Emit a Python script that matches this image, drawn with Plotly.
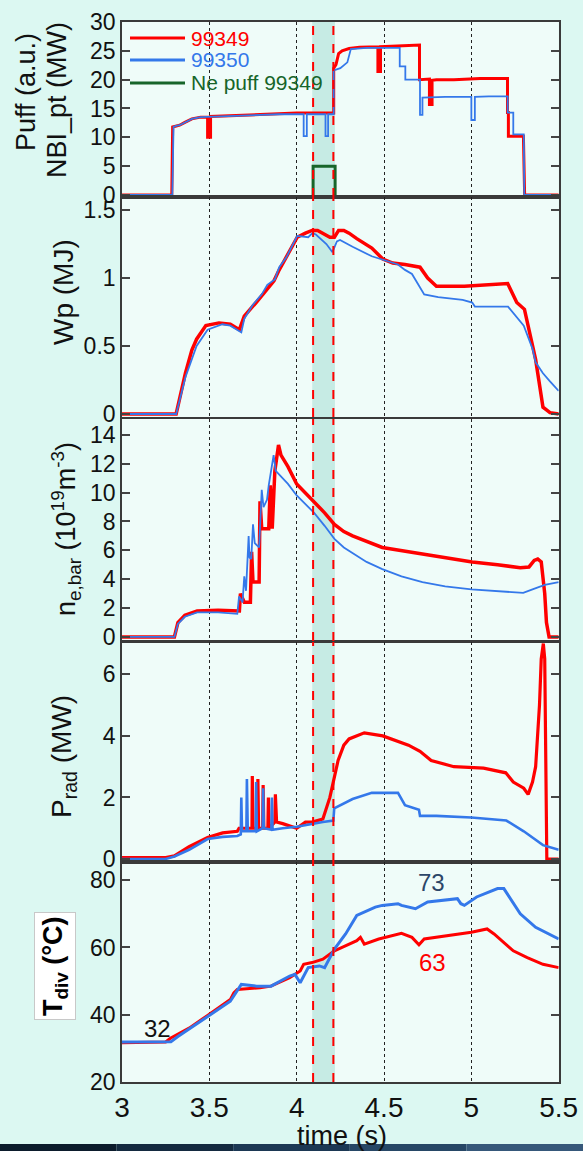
import plotly.graph_objects as go

# ---------------- data ----------------
# Panel 1: NBI power / Ne puff
nbi_349_t = [3.0, 3.285, 3.29, 3.31, 3.33, 3.36, 3.40, 3.45, 3.49, 3.49, 3.507, 3.507, 3.60, 3.75, 3.90, 4.0, 4.212,
             4.212, 4.225, 4.24, 4.26, 4.30, 4.36, 4.465, 4.465, 4.48, 4.48, 4.60, 4.703, 4.703, 4.76, 4.76, 4.775,
             4.775, 4.80, 4.90, 5.05, 5.207, 5.207, 5.212, 5.212, 5.298, 5.30, 5.305, 5.5]
nbi_349_v = [0, 0, 11.8, 12.0, 12.1, 12.6, 13.2, 13.5, 13.5, 10.0, 10.0, 13.6, 13.7, 13.9, 14.1, 14.2, 14.2,
             22.0, 22.6, 24.5, 25.0, 25.4, 25.6, 25.7, 21.4, 21.4, 25.7, 25.8, 26.0, 20.0, 20.1, 15.7, 15.7,
             19.9, 20.0, 20.0, 20.2, 20.2, 14.3, 14.3, 10.2, 10.2, 6.0, 0, 0]
nbi_350_t = [3.0, 3.288, 3.295, 3.31, 3.33, 3.36, 3.40, 3.45, 3.60, 3.75, 3.90, 4.04, 4.04, 4.058, 4.058, 4.165,
             4.165, 4.18, 4.18, 4.212, 4.212, 4.25, 4.27, 4.29, 4.31, 4.40, 4.59, 4.59, 4.622, 4.622, 4.706,
             4.706, 4.72, 4.72, 4.85, 5.0, 5.0, 5.02, 5.02, 5.1, 5.208, 5.208, 5.24, 5.24, 5.30, 5.303, 5.5]
nbi_350_v = [0, 0, 11.8, 12.0, 12.1, 12.6, 13.2, 13.5, 13.7, 13.9, 14.0, 14.0, 10.2, 10.2, 14.0, 14.0,
             10.2, 10.2, 14.0, 14.0, 21.6, 22.0, 22.5, 23.0, 25.3, 25.5, 25.5, 22.3, 22.3, 20.0, 20.0,
             13.9, 13.9, 16.9, 17.0, 17.0, 13.0, 13.0, 17.0, 17.1, 17.1, 14.3, 14.3, 10.5, 10.5, 0, 0]
ne_puff_t = [4.094, 4.094, 4.22, 4.22]
ne_puff_v = [0, 5.0, 5.0, 0]

# Panel 2: Wp
wp_349_t = [3.0, 3.31, 3.363, 3.40, 3.427, 3.48, 3.555, 3.62, 3.672, 3.70, 3.768, 3.80, 3.832, 3.87, 3.896, 3.93,
            3.96, 4.003, 4.05, 4.088, 4.12, 4.152, 4.19, 4.216, 4.24, 4.27, 4.30, 4.344, 4.39, 4.43, 4.493, 4.55,
            4.62, 4.68, 4.706, 4.75, 4.80, 4.96, 5.10, 5.15, 5.208, 5.26, 5.304, 5.368, 5.41, 5.43, 5.45, 5.5]
wp_349_v = [0.0, 0.0, 0.30, 0.47, 0.55, 0.65, 0.67, 0.66, 0.62, 0.72, 0.82, 0.87, 0.92, 0.98, 1.05, 1.13,
            1.20, 1.30, 1.33, 1.35, 1.35, 1.33, 1.30, 1.30, 1.35, 1.35, 1.33, 1.29, 1.25, 1.22, 1.14, 1.11,
            1.10, 1.09, 1.08, 1.00, 0.94, 0.94, 0.95, 0.96, 0.96, 0.82, 0.77, 0.40, 0.05, 0.03, 0.01, 0.0]
wp_350_t = [3.0, 3.31, 3.363, 3.427, 3.49, 3.575, 3.62, 3.683, 3.70, 3.747, 3.80, 3.832, 3.875, 3.90, 3.94, 3.96,
            4.003, 4.066, 4.09, 4.11, 4.17, 4.205, 4.23, 4.248, 4.32, 4.43, 4.58, 4.62, 4.66, 4.73, 4.81, 4.95,
            5.005, 5.02, 5.21, 5.30, 5.35, 5.368, 5.41, 5.45, 5.5]
wp_350_v = [0.0, 0.0, 0.27, 0.50, 0.62, 0.66, 0.65, 0.60, 0.70, 0.80, 0.88, 0.95, 0.99, 1.08, 1.15, 1.20,
            1.31, 1.30, 1.33, 1.32, 1.25, 1.19, 1.27, 1.28, 1.23, 1.16, 1.10, 1.06, 1.03, 0.88, 0.86, 0.84,
            0.82, 0.79, 0.79, 0.65, 0.48, 0.38, 0.30, 0.24, 0.17]

# Panel 3: line-averaged density
ne_349_t = [3.0, 3.30, 3.32, 3.36, 3.43, 3.55, 3.672, 3.678, 3.70, 3.735, 3.742, 3.75, 3.785, 3.79, 3.80, 3.84,
            3.849, 3.855, 3.86, 3.875, 3.896, 3.91, 3.95, 4.0, 4.05, 4.10, 4.16, 4.216, 4.27, 4.32, 4.40, 4.49,
            4.64, 4.80, 5.005, 5.15, 5.28, 5.33, 5.36, 5.38, 5.40, 5.42, 5.43, 5.445, 5.5]
ne_349_v = [0, 0, 1.0, 1.5, 1.8, 1.85, 1.8, 3.0, 2.4, 2.4, 5.9, 3.8, 3.8, 9.4, 7.5, 7.5,
            10.5, 7.5, 7.5, 11.5, 13.3, 12.6, 11.8, 10.6, 10.0, 9.4, 8.6, 7.8, 7.3, 7.0, 6.6, 6.2,
            5.9, 5.6, 5.2, 5.0, 4.8, 4.85, 5.3, 5.4, 5.2, 3.0, 1.0, 0.0, 0.0]
ne_350_t = [3.0, 3.30, 3.32, 3.36, 3.43, 3.55, 3.66, 3.67, 3.69, 3.70, 3.71, 3.725, 3.73, 3.74, 3.75, 3.76,
            3.785, 3.80, 3.81, 3.83, 3.84, 3.868, 3.88, 3.95, 4.0, 4.05, 4.10, 4.16, 4.216, 4.27, 4.32, 4.40,
            4.49, 4.60, 4.72, 4.85, 5.0, 5.15, 5.297, 5.35, 5.42, 5.5]
ne_350_v = [0, 0, 0.9, 1.4, 1.7, 1.7, 1.6, 2.8, 2.4, 4.2, 3.2, 7.0, 5.5, 5.4, 7.8, 6.5,
            6.2, 10.2, 9.0, 9.5, 10.5, 12.6, 11.5, 10.6, 9.8, 9.2, 8.6, 7.7, 6.8, 6.2, 5.8, 5.2,
            4.7, 4.2, 3.8, 3.5, 3.3, 3.2, 3.05, 3.3, 3.6, 3.8]

# Panel 4: radiated power
prad_349_t = [3.0, 3.25, 3.30, 3.384, 3.49, 3.576, 3.66, 3.67, 3.70, 3.744, 3.746, 3.75, 3.775, 3.778, 3.782,
              3.805, 3.808, 3.812, 3.835, 3.838, 3.842, 3.875, 3.878, 3.885, 3.92, 4.0, 4.05, 4.088, 4.15, 4.19,
              4.237, 4.27, 4.30, 4.387, 4.493, 4.60, 4.64, 4.706, 4.77, 4.90, 5.07, 5.197, 5.24, 5.30, 5.325,
              5.35, 5.368, 5.39, 5.40, 5.412, 5.42, 5.432, 5.5]
prad_349_v = [0.05, 0.05, 0.1, 0.4, 0.7, 0.85, 0.9, 1.0, 1.0, 1.0, 2.7, 1.0, 1.0, 2.6, 1.0,
              1.0, 2.4, 1.0, 1.0, 2.0, 1.0, 1.2, 2.1, 1.2, 1.15, 1.0, 1.2, 1.2, 1.3, 2.0,
              3.2, 3.7, 3.9, 4.1, 4.0, 3.8, 3.7, 3.5, 3.2, 3.0, 2.95, 2.8, 2.5, 2.3, 2.1,
              2.5, 3.0, 5.0, 6.5, 7.0, 6.5, 0.0, 0.0]
prad_350_t = [3.0, 3.25, 3.30, 3.384, 3.49, 3.576, 3.66, 3.68, 3.683, 3.687, 3.712, 3.715, 3.72, 3.765, 3.768,
              3.772, 3.805, 3.808, 3.812, 3.855, 3.858, 3.862, 3.92, 4.0, 4.15, 4.21, 4.215, 4.32, 4.43, 4.58,
              4.62, 4.70, 4.706, 4.80, 5.0, 5.20, 5.30, 5.41, 5.5]
prad_350_v = [0.0, 0.0, 0.08, 0.3, 0.65, 0.72, 0.75, 0.8, 2.0, 0.9, 0.9, 2.6, 0.9, 0.9, 2.5,
              0.9, 1.0, 2.3, 1.0, 0.95, 2.0, 0.95, 1.0, 1.05, 1.2, 1.25, 1.65, 1.95, 2.15, 2.15,
              1.75, 1.6, 1.4, 1.4, 1.35, 1.25, 0.9, 0.45, 0.3]

# Panel 5: divertor temperature
tdiv_349_t = [3.0, 3.25, 3.277, 3.384, 3.49, 3.62, 3.64, 3.66, 3.79, 3.853, 3.96, 4.02, 4.04, 4.088, 4.15, 4.216,
              4.26, 4.344, 4.365, 4.387, 4.47, 4.60, 4.66, 4.70, 4.73, 4.856, 5.0, 5.09, 5.13, 5.24, 5.32, 5.41, 5.5]
tdiv_349_v = [31.7, 31.9, 33, 36, 39.8, 44.5, 46.5, 47.5, 48, 48.5, 51, 53, 55, 55.5, 56.5, 59,
              60, 62, 63, 61, 62.5, 64.2, 63, 60.8, 62.5, 63.5, 64.5, 65.5, 64, 59, 57, 55, 54]
tdiv_350_t = [3.0, 3.28, 3.32, 3.405, 3.49, 3.62, 3.683, 3.77, 3.853, 3.96, 3.99, 4.02, 4.066, 4.13, 4.16, 4.216,
              4.28, 4.344, 4.45, 4.49, 4.58, 4.60, 4.68, 4.75, 4.92, 4.94, 4.96, 5.03, 5.15, 5.186, 5.28, 5.368, 5.5]
tdiv_350_v = [31.9, 32, 33.5, 36.5, 39.5, 44, 49, 48.5, 48.5, 51.5, 52, 49.5, 54, 54.5, 54, 59.5,
              64, 69.5, 72, 72.5, 73, 72.5, 71.5, 73.5, 74.5, 73, 72.5, 75, 77.5, 77.5, 70, 66, 62.5]

x_ticks = [3, 3.5, 4, 4.5, 5, 5.5]
x_tick_text = ["3", "3.5", "4", "4.5", "5", "5.5"]
neon_window = [4.094, 4.21]
shade_window = [4.089, 4.219]

# ---------------- styling ----------------
W, H = 583, 1151
RED = "#ff0000"
BLUE = "#3478ea"
GREEN = "#17652a"
FONT = "Liberation Sans, Arial, sans-serif"


def px(x):
    return x / W


def py(y):
    return 1 - y / H


xdom = [px(122), px(558.7)]
panels = [
    dict(top=22, bot=197, rng=[-0.35, 30], ticks=[0, 5, 10, 15, 20, 25, 30]),
    dict(top=197, bot=417, rng=[-0.022, 1.596], ticks=[0, 0.5, 1, 1.5]),
    dict(top=419, bot=641, rng=[-0.28, 15.1], ticks=[0, 2, 4, 6, 8, 10, 12, 14]),
    dict(top=642, bot=862, rng=[-0.097, 7.05], ticks=[0, 2, 4, 6]),
    dict(top=862, bot=1082, rng=[20, 85.4], ticks=[20, 40, 60, 80]),
]

fig = go.Figure()


def add(i, t, v, color, width):
    sfx = "" if i == 1 else str(i)
    fig.add_trace(go.Scatter(x=t, y=v, mode="lines", line=dict(color=color, width=width),
                             xaxis="x" + sfx, yaxis="y" + sfx, showlegend=False, hoverinfo="skip"))


add(1, nbi_349_t, nbi_349_v, RED, 3)
add(1, nbi_350_t, nbi_350_v, BLUE, 1.8)
add(1, ne_puff_t, ne_puff_v, GREEN, 3)
add(2, wp_349_t, wp_349_v, RED, 3.5)
add(2, wp_350_t, wp_350_v, BLUE, 1.8)
add(3, ne_349_t, ne_349_v, RED, 3.5)
add(3, ne_350_t, ne_350_v, BLUE, 1.8)
add(4, prad_349_t, prad_349_v, RED, 3.2)
add(4, prad_350_t, prad_350_v, BLUE, 2.6)
add(5, tdiv_349_t, tdiv_349_v, RED, 3)
add(5, tdiv_350_t, tdiv_350_v, BLUE, 3)

layout = dict(
    width=W, height=H,
    margin=dict(l=0, r=0, t=0, b=0, autoexpand=False),
    paper_bgcolor="#dcf8f2",
    plot_bgcolor="#effcf9",
    font=dict(family=FONT, color="#111111"),
    showlegend=False,
)

shapes = []
for k, p in enumerate(panels, start=1):
    sfx = "" if k == 1 else str(k)
    layout["xaxis" + sfx] = dict(
        domain=xdom, range=[3, 5.5], anchor="y" + sfx, automargin=False,
        tickvals=x_ticks, ticktext=x_tick_text, showticklabels=(k == 5),
        ticks="", showgrid=True, gridcolor="#222222", griddash="dot", gridwidth=1,
        showline=True, mirror=True, linecolor="#3a3a3a", linewidth=1.6,
        zeroline=False, tickfont=dict(size=28, family=FONT, color="#111"),
    )
    layout["yaxis" + sfx] = dict(
        domain=[py(p["bot"]), py(p["top"])], range=p["rng"], anchor="x" + sfx, automargin=False,
        tickvals=p["ticks"], ticks="inside", ticklen=8, tickwidth=1.5, tickcolor="#444",
        showgrid=False, zeroline=False, showline=True, mirror="ticks",
        linecolor="#3a3a3a", linewidth=1.6, tickfont=dict(size=23, family=FONT, color="#111"),
    )
    xr = "x" + sfx
    yr = "y" + sfx + " domain"
    shapes.append(dict(type="rect", xref=xr, yref=yr, x0=shade_window[0], x1=shade_window[1],
                       y0=0, y1=1, fillcolor="#c6ebe4", line=dict(width=0), layer="below"))
    for xv in neon_window:
        shapes.append(dict(type="line", xref=xr, yref=yr, x0=xv, x1=xv, y0=0, y1=1,
                           line=dict(color=RED, width=2, dash="dash"), layer="above"))

# legend (manual) in panel 1
legend_items = [("99349", RED, 38), ("99350", BLUE, 60), ("Ne puff 99349", GREEN, 83)]
annotations = []
for label, col, yy in legend_items:
    shapes.append(dict(type="line", xref="paper", yref="paper", x0=px(130), x1=px(185),
                       y0=py(yy), y1=py(yy), line=dict(color=col, width=3)))
    annotations.append(dict(text=label, xref="paper", yref="paper", x=px(189), y=py(yy),
                            xanchor="left", yanchor="middle", showarrow=False,
                            font=dict(size=21, color=col, family=FONT)))

# bottom dark band
band_cols = ["#0c1c2c", "#142a40", "#1c3854", "#274766", "#36587a"]
n = len(band_cols)
for j, c in enumerate(band_cols):
    shapes.append(dict(type="rect", xref="paper", yref="paper", x0=j / n, x1=(j + 1) / n,
                       y0=0, y1=py(1144), fillcolor=c, line=dict(width=0), layer="below"))

# y-axis titles
ytitles = [
    ("Puff (a.u.)", 26, 92, 27),
    ("NBI_pt (MW)", 57, 100, 27),
    ("Wp (MJ)", 63, 292, 28),
    ("n<sub>e,bar</sub> (10<sup>19</sup>m<sup>-3</sup>)", 66, 529, 27),
    ("P<sub>rad</sub> (MW)", 63, 757, 28),
]
for txt, xx, yy, sz in ytitles:
    annotations.append(dict(text=txt, xref="paper", yref="paper", x=px(xx), y=py(yy),
                            xanchor="center", yanchor="middle", textangle=-90, showarrow=False,
                            font=dict(size=sz, family=FONT, color="#111")))
annotations.append(dict(text="<b>T<sub>div</sub> (°C)</b>", xref="paper", yref="paper",
                        x=px(55), y=py(966), xanchor="center", yanchor="middle", textangle=-90,
                        showarrow=False, bgcolor="#ffffff", bordercolor="#c8c8c8", borderwidth=1,
                        borderpad=3, font=dict(size=27, family=FONT, color="#000")))

# value labels in panel 5
annotations += [
    dict(text="32", xref="x5", yref="y5", x=3.206, y=35.8, showarrow=False,
         font=dict(size=24, family=FONT, color="#111")),
    dict(text="73", xref="x5", yref="y5", x=4.77, y=79.2, showarrow=False,
         font=dict(size=24, family=FONT, color="#2c4668")),
    dict(text="63", xref="x5", yref="y5", x=4.78, y=55.6, showarrow=False,
         font=dict(size=24, family=FONT, color=RED)),
]

# x-axis title
annotations.append(dict(text="time (s)", xref="paper", yref="paper", x=px(342), y=py(1136),
                        xanchor="center", yanchor="middle", showarrow=False,
                        font=dict(size=27, family=FONT, color="#111")))

layout["shapes"] = shapes
layout["annotations"] = annotations
fig.update_layout(**layout)
fig.write_html("out.html", config={"displayModeBar": False},
               post_script="document.body.style.margin='0';document.body.style.overflow='hidden';")
